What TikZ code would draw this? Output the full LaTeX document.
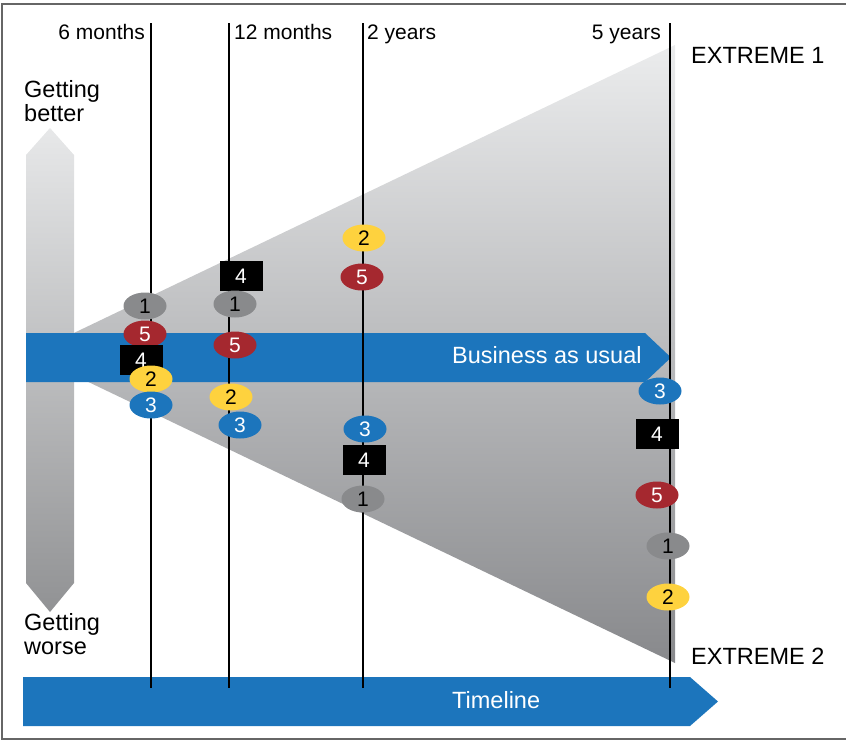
\documentclass[tikz,border=0pt]{standalone}
\usepackage{fontspec}
\setmainfont{Liberation Sans}
\usetikzlibrary{shapes.geometric}
\definecolor{barblue}{HTML}{1C75BC}
\definecolor{dotred}{HTML}{A5282F}
\definecolor{dotyellow}{HTML}{FED23E}
\definecolor{dotgray}{HTML}{898A8C}
\definecolor{conetop}{HTML}{EBECED}
\definecolor{conebot}{HTML}{88898C}
\definecolor{arrtop}{HTML}{E7E8E9}
\definecolor{arrbot}{HTML}{919294}
\newcommand{\bigfont}{\fontsize{23.5}{24}\selectfont}
\newcommand{\dotfont}{\fontsize{21}{21}\selectfont}
\tikzset{
    bubble/.style={ellipse, minimum width=43pt, minimum height=27pt, inner sep=0pt, font=\dotfont},
    tag/.style={rectangle, fill=black, text=white, minimum width=43pt, minimum height=30pt, inner sep=0pt, font=\dotfont},
    bigtext/.style={font=\bigfont, inner sep=0pt}
}
\begin{document}
\begin{tikzpicture}[x=1pt, y=-1pt]
    \useasboundingbox (0,0) rectangle (846,740);
    \draw[color=black!60, line width=2pt] (850,4) -- (2,4) -- (2,739) -- (850,739);
    \shade[top color=conetop, bottom color=conebot]
            (30,354) -- (675,45) -- (675,663) -- cycle;
    \shade[top color=arrtop, bottom color=arrbot]
            (50,128) -- (74,155) -- (74,583) -- (50,612) -- (26,583) -- (26,155) -- cycle;
    \fill[barblue] (26,333) -- (645,333) -- (671,357.5) -- (645,382) -- (26,382) -- cycle;
    \fill[barblue] (23,677) -- (690,677) -- (718,701.5) -- (690,726) -- (23,726) -- cycle;
    \node[bigtext, text=white, anchor=base west] (bau) at (452,363) {Business as usual};
    \node[bigtext, text=white, anchor=base west] (timeline) at (452,708) {Timeline};
    \foreach \x/\n in {151/six,229/twelve,363/two,670/five}{
        \coordinate (\n top) at (\x,23);
        \coordinate (\n bot) at (\x,688);
        \draw[line width=2pt] (\n top) -- (\n bot);
    }
    \node[font=\fontsize{21}{21}\selectfont, inner sep=0pt, anchor=base east] (lsix) at (145,39) {6 months};
    \node[font=\fontsize{21}{21}\selectfont, inner sep=0pt, anchor=base west] (ltwelve) at (234,39) {12 months};
    \node[font=\fontsize{21}{21}\selectfont, inner sep=0pt, anchor=base west] (ltwo) at (367,39) {2 years};
    \node[font=\fontsize{21}{21}\selectfont, inner sep=0pt, anchor=base east] (lfive) at (661,39) {5 years};
    \node[bigtext, anchor=base west] (ext1) at (691,63) {EXTREME 1};
    \node[bigtext, anchor=base west] (ext2) at (691,664) {EXTREME 2};
    \node[bigtext, anchor=north west, align=left] (better) at (24,80) {Getting\\better};
    \node[bigtext, anchor=north west, align=left] (worse) at (24,613) {Getting\\worse};
    % 6 months
    \node[bubble, fill=dotgray] (s1) at (145,306) {1};
    \node[bubble, fill=dotred, text=white] (s5) at (145,334) {5};
    \node[tag] (s4) at (141,360) {4};
    \node[bubble, fill=dotyellow] (s2) at (151,379) {2};
    \node[bubble, fill=barblue, text=white] (s3) at (151,405) {3};
    % 12 months
    \node[tag] (t4) at (241,276) {4};
    \node[bubble, fill=dotgray] (t1) at (235,304) {1};
    \node[bubble, fill=dotred, text=white] (t5) at (235,345) {5};
    \node[bubble, fill=dotyellow] (t2) at (231,397) {2};
    \node[bubble, fill=barblue, text=white] (t3) at (240,425) {3};
    % 2 years
    \node[bubble, fill=dotyellow] (y2) at (364,238) {2};
    \node[bubble, fill=dotred, text=white] (y5) at (362,277) {5};
    \node[bubble, fill=barblue, text=white] (y3) at (365,429) {3};
    \node[tag] (y4) at (364,460) {4};
    \node[bubble, fill=dotgray] (y1) at (363,499) {1};
    % 5 years
    \node[bubble, fill=barblue, text=white] (f3) at (660,391) {3};
    \node[tag] (f4) at (657,434) {4};
    \node[bubble, fill=dotred, text=white] (f5) at (657,495) {5};
    \node[bubble, fill=dotgray] (f1) at (668,546) {1};
    \node[bubble, fill=dotyellow] (f2) at (668,597) {2};
\end{tikzpicture}
\end{document}
